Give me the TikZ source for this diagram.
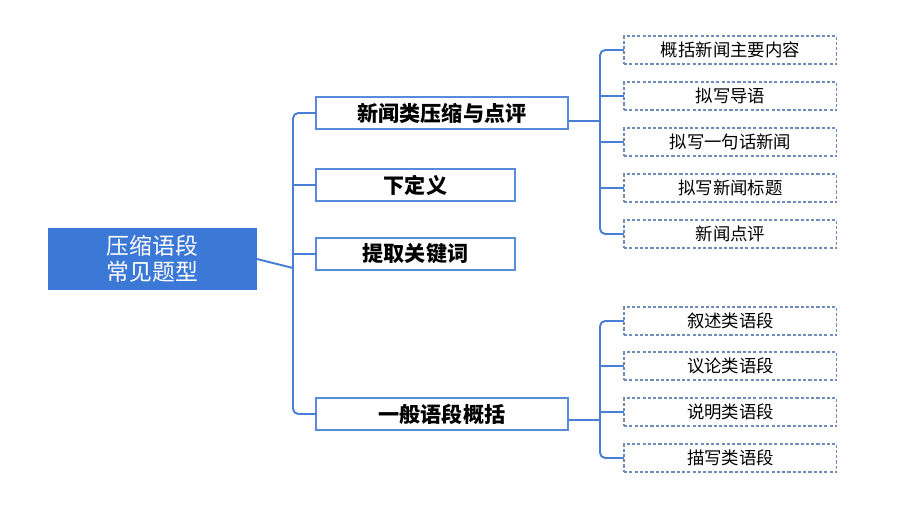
\documentclass[tikz,border=0pt]{standalone}
\usepackage{fontspec}
\newfontfamily\cjk{Noto Sans CJK SC}
\usepackage{tikz}
\definecolor{rootblue}{RGB}{60,120,214}
\definecolor{boxblue}{RGB}{88,140,218}
\definecolor{linkblue}{RGB}{72,126,214}
\definecolor{leafblue}{RGB}{112,140,190}

\begin{document}
\begin{tikzpicture}[x=0.02cm,y=0.02cm,
    root node/.style={fill=rootblue,text=white,inner sep=0pt,outer sep=0pt,minimum width=4.18cm,minimum height=1.24cm,align=center,font=\cjk\fontsize{13}{15}\selectfont},
    main node/.style={draw=boxblue,line width=0.9pt,fill=white,inner sep=0pt,outer sep=0pt,minimum height=0.64cm,anchor=west,font=\cjk\bfseries\fontsize{12}{14}\selectfont},
    wide node/.style={main node,minimum width=5.04cm},
    short node/.style={main node,minimum width=3.98cm},
    leaf node/.style={draw=leafblue,dash pattern=on 1.8pt off 1.2pt,line width=0.6pt,inner sep=0pt,outer sep=0pt,minimum width=4.26cm,minimum height=0.56cm,anchor=west,font=\cjk\fontsize{9.9}{12}\selectfont},
    link/.style={draw=linkblue,line width=1.1pt,rounded corners=3pt}]
    \useasboundingbox (0,0) rectangle (920,-518);

    \node[root node] (root) at (152.5,-259) {压缩语段\\常见题型};

    \node[wide node] (news) at (316,-113) {新闻类压缩与点评};
    \node[short node] (define) at (316,-185) {下定义};
    \node[short node] (keys) at (316,-254) {提取关键词};
    \node[wide node] (general) at (316,-414) {一般语段概括};

    \node[leaf node] (n1) at (624,-50) {概括新闻主要内容};
    \node[leaf node] (n2) at (624,-96) {拟写导语};
    \node[leaf node] (n3) at (624,-142) {拟写一句话新闻};
    \node[leaf node] (n4) at (624,-188) {拟写新闻标题};
    \node[leaf node] (n5) at (624,-234) {新闻点评};

    \node[leaf node] (g1) at (624,-321) {叙述类语段};
    \node[leaf node] (g2) at (624,-366) {议论类语段};
    \node[leaf node] (g3) at (624,-412) {说明类语段};
    \node[leaf node] (g4) at (624,-458) {描写类语段};

    % first level
    \coordinate (j1) at (293,-268);
    \draw[link] (root.east) -- (j1);
    \draw[link] (news.west) -| (j1) |- (general.west);
    \draw[link] (define.west) -- (define.west -| j1);
    \draw[link] (keys.west) -- (keys.west -| j1);

    % news group
    \coordinate (j2) at (600,-121);
    \draw[link] (j2 -| news.east) -- (j2);
    \draw[link] (n1.west) -| (j2) |- (n5.west);
    \foreach \n in {n2,n3,n4}
        \draw[link] (\n.west) -- (\n.west -| j2);

    % general group
    \coordinate (j3) at (600,-420);
    \draw[link] (j3 -| general.east) -- (j3);
    \draw[link] (g1.west) -| (j3) |- (g4.west);
    \foreach \n in {g2,g3}
        \draw[link] (\n.west) -- (\n.west -| j3);
\end{tikzpicture}
\end{document}
